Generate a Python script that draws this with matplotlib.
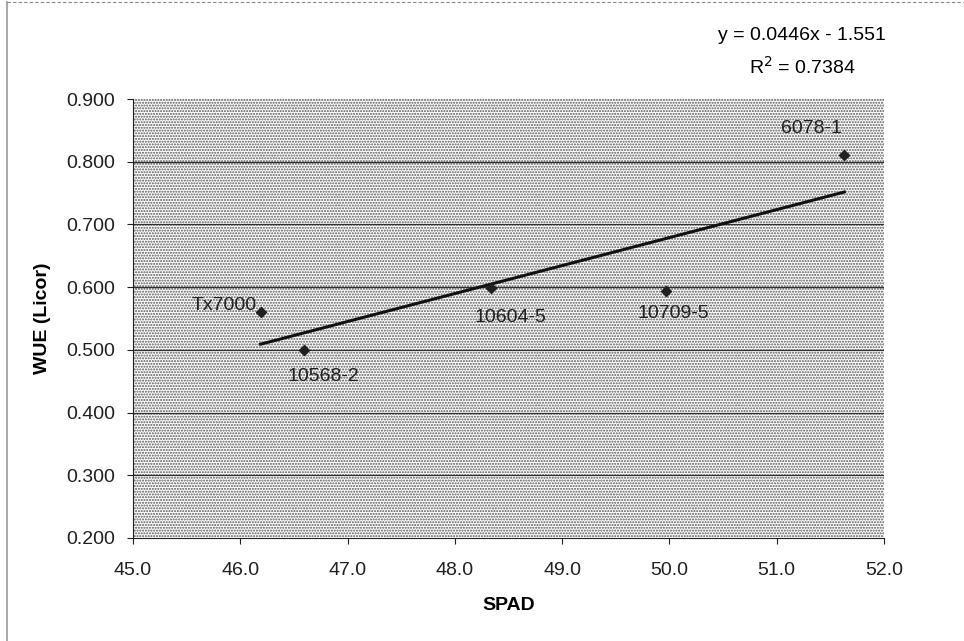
import matplotlib.pyplot as plt
from matplotlib.lines import Line2D
from matplotlib.patches import Rectangle

# datos
genotipos = ['Tx7000', '10568-2', '10604-5', '10709-5', '6078-1']
spad = [46.19, 46.59, 48.34, 49.97, 51.63]
wue = [0.561, 0.499, 0.598, 0.594, 0.810]
pendiente = 0.0446
intercepto = -1.551
r2 = 0.7384
y_ticks = [0.2, 0.3, 0.4, 0.5, 0.6, 0.7, 0.8, 0.9]
x_ticks = [45, 46, 47, 48, 49, 50, 51, 52]

plt.rcParams['font.family'] = ['Liberation Sans', 'DejaVu Sans']

W, H = 964, 641
fig = plt.figure(figsize=(W / 100, H / 100), dpi=100)
ax = fig.add_axes([133 / W, 1 - 538 / H, (884 - 133) / W, (538 - 99) / H])

# borde del area del grafico
fig.add_artist(Line2D([7 / W, 7 / W], [0, 1 - 2 / H], transform=fig.transFigure,
                      color='#999999', linewidth=1.2))
fig.add_artist(Line2D([7 / W, 1], [1 - 2 / H, 1 - 2 / H], transform=fig.transFigure,
                      color='#888888', linewidth=0.8, linestyle=(0, (3, 2))))

# fondo punteado
ax.add_patch(Rectangle((0, 0), 1, 1, transform=ax.transAxes, facecolor='white',
                       edgecolor='#555555', hatch='......', linewidth=0, zorder=0))
ax.set_facecolor('white')

for y in y_ticks[1:-1]:
    ax.axhline(y, color='#303030', linewidth=0.9, zorder=1)

ax.scatter(spad, wue, marker='D', s=26, color='#202020', zorder=3)

x0, x1 = min(spad), max(spad)
ax.plot([x0, x1], [pendiente * x0 + intercepto, pendiente * x1 + intercepto],
        color='#111111', linewidth=2.2, zorder=2)

# desplazamiento de etiquetas en pixeles
desplaz = {'Tx7000': (-4, 6, 'right'),
           '10568-2': (-16, -26, 'left'),
           '10604-5': (-17, -29, 'left'),
           '10709-5': (-29, -23, 'left'),
           '6078-1': (-63, 27, 'left')}
for nombre, x, y in zip(genotipos, spad, wue):
    dx, dy, ha = desplaz[nombre]
    ax.annotate(nombre, (x, y), xytext=(dx, dy), textcoords='offset pixels',
                ha=ha, va='center', fontsize=14, color='#202020')

ax.set_xlim(45, 52)
ax.set_ylim(0.2, 0.9)
ax.set_xticks(x_ticks)
ax.set_xticklabels([f'{v:.1f}' for v in x_ticks])
ax.set_yticks(y_ticks)
ax.set_yticklabels([f'{v:.3f}' for v in y_ticks])
ax.tick_params(labelsize=14, direction='out', length=4, width=0.8, colors='#202020')
ax.tick_params(axis='x', pad=13)
ax.tick_params(axis='y', pad=9)
ax.spines['top'].set_visible(False)
ax.spines['right'].set_visible(False)
ax.spines['left'].set_color('#202020')
ax.spines['bottom'].set_color('#202020')

ax.set_xlabel('SPAD', fontsize=14, fontweight='bold', va='center')
ax.set_ylabel('WUE (Licor)', fontsize=14, fontweight='bold', va='center')
ax.xaxis.set_label_coords(0.5, (538 - 605) / 439, transform=ax.transAxes)
ax.yaxis.set_label_coords((43 - 133) / 751, 0.5, transform=ax.transAxes)

fig.text(802 / W, 1 - 36 / H, f'y = {pendiente}x - {abs(intercepto)}',
         ha='center', va='center', fontsize=14)
fig.text(802 / W, 1 - 67 / H, f'R$^2$ = {r2}', ha='center', va='center', fontsize=14)

fig.savefig('out.png', dpi=100)
